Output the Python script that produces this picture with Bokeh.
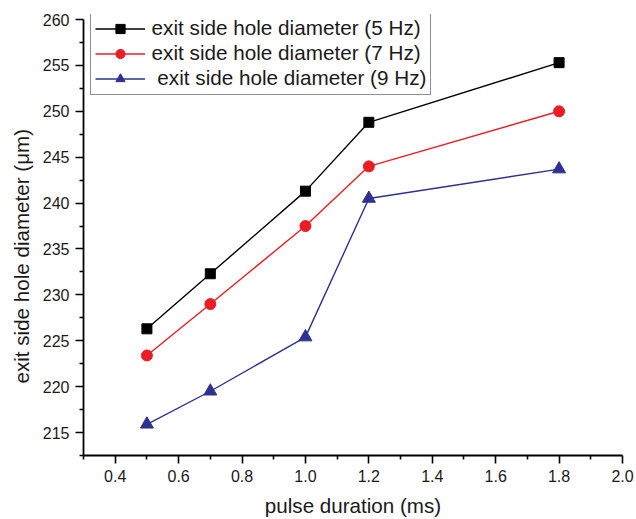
from bokeh.plotting import figure
from bokeh.models import FixedTicker, Range1d, Legend, LegendItem, CustomJSTickFormatter, Title
from bokeh.embed import file_html
from bokeh.resources import INLINE

x_vals = [0.5, 0.7, 1.0, 1.2, 1.8]
d_5hz = [226.3, 232.3, 241.3, 248.8, 255.3]
d_7hz = [223.4, 229.0, 237.5, 244.0, 250.0]
d_9hz = [215.9, 219.5, 225.4, 240.5, 243.7]
labels = ["exit side hole diameter (5 Hz)", "exit side hole diameter (7 Hz)", " exit side hole diameter (9 Hz)"]
x_title = "pulse duration (ms)"
y_title = "exit side hole diameter (\u03bcm)"
x_ticks = [0.4, 0.6, 0.8, 1.0, 1.2, 1.4, 1.6, 1.8, 2.0]
x_minor = [0.3, 0.5, 0.7, 0.9, 1.1, 1.3, 1.5, 1.7, 1.9]
y_ticks = [215, 220, 225, 230, 235, 240, 245, 250, 255, 260]
y_minor = [212.5, 217.5, 222.5, 227.5, 232.5, 237.5, 242.5, 247.5, 252.5, 257.5]

FONT = "Liberation Sans"
TXT = "#1a1a1a"

p = figure(width=636, height=519, output_backend="svg", toolbar_location=None,
           x_range=Range1d(0.3, 2.0), y_range=Range1d(212.5, 260.545))
p.min_border_left = 83
p.min_border_right = 14
p.min_border_top = 14
p.min_border_bottom = 64
p.outline_line_color = None
p.xgrid.grid_line_color = None
p.ygrid.grid_line_color = None

black = "#000000"
red = "#ED1C24"
blue = "#2E3192"

l1 = p.line(x_vals, d_5hz, line_color=black, line_width=1.4)
m1 = p.scatter(x_vals, d_5hz, marker="square", size=10, fill_color=black, line_color=black)
l2 = p.line(x_vals, d_7hz, line_color=red, line_width=1.4)
m2 = p.scatter(x_vals, d_7hz, marker="circle", size=11, fill_color=red, line_color=red)
l3 = p.line(x_vals, d_9hz, line_color=blue, line_width=1.4)
m3 = p.scatter(x_vals, d_9hz, marker="triangle", size=13, fill_color=blue, line_color=blue)

for ax, ticks, minor in ((p.xaxis[0], x_ticks, x_minor), (p.yaxis[0], y_ticks, y_minor)):
    ax.ticker = FixedTicker(ticks=ticks, minor_ticks=minor)
    ax.major_tick_in = 0
    ax.major_tick_out = 8
    ax.minor_tick_in = 0
    ax.minor_tick_out = 4
    ax.axis_line_width = 1.8
    ax.major_tick_line_width = 1.6
    ax.minor_tick_line_width = 1.6
    ax.major_label_text_font = FONT
    ax.major_label_text_font_size = "16px"
    ax.major_label_text_color = TXT
    ax.axis_label_text_font = FONT
    ax.axis_label_text_font_size = "20.6px"
    ax.axis_label_text_font_style = "normal"
    ax.axis_label_text_color = TXT

p.yaxis[0].bounds = (212.5, 260)
p.xaxis[0].formatter = CustomJSTickFormatter(code="return tick.toFixed(1);")
p.xaxis[0].axis_label = x_title
p.xaxis[0].major_label_standoff = 6
p.xaxis[0].axis_label_standoff = 9
p.yaxis[0].major_label_standoff = 6

# y-axis title, placed off-centre as in the reference
yt = Title(text=y_title, align="left", offset=72, text_font=FONT,
           text_font_size="20.6px", text_font_style="normal", text_color=TXT,
           standoff=13)
p.add_layout(yt, "left")

legend = Legend(items=[
    LegendItem(label=labels[0], renderers=[l1, m1]),
    LegendItem(label=labels[1], renderers=[l2, m2]),
    LegendItem(label=labels[2], renderers=[l3, m3]),
], location=(6.6, 360))
legend.label_text_font = FONT
legend.label_text_font_size = "20.7px"
legend.label_text_color = TXT
legend.glyph_width = 50
legend.glyph_height = 23
legend.label_height = 23
legend.spacing = 1
legend.padding = 4
legend.margin = 0
legend.label_standoff = 7
legend.border_line_color = "#222222"
legend.border_line_width = 1.2
legend.background_fill_alpha = 1.0
p.add_layout(legend, "center")

open("out.html", "w").write(file_html(p, INLINE))
